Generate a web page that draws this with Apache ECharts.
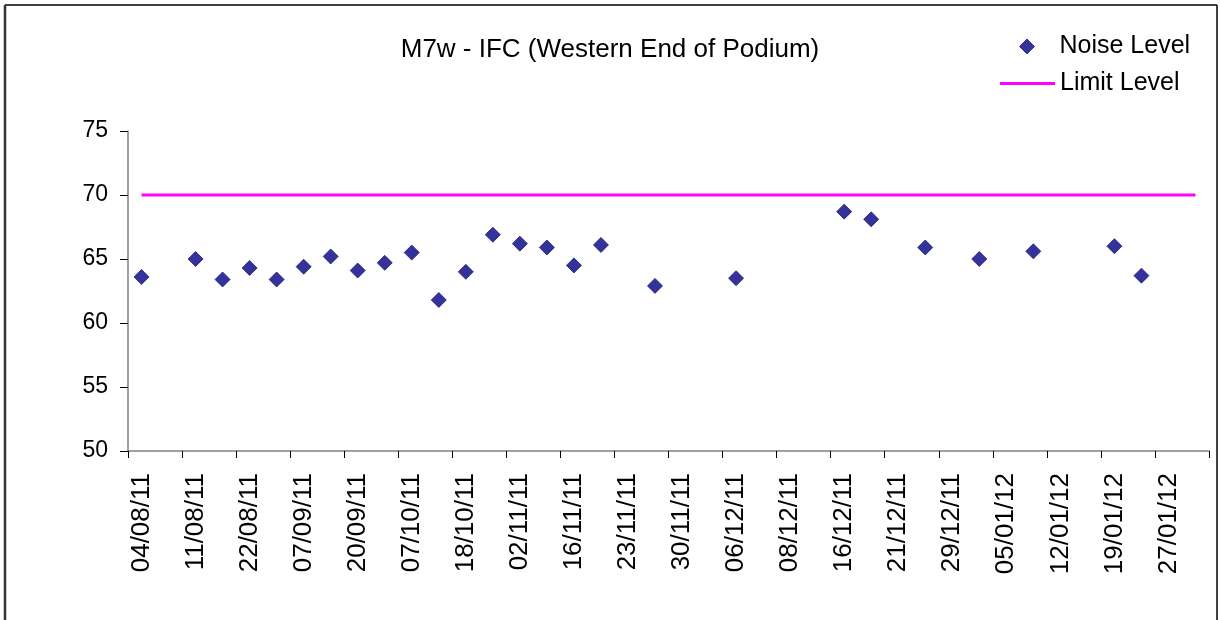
<!DOCTYPE html>
<html>
<head>
<meta charset="utf-8">
<script src="https://cdn.jsdelivr.net/npm/echarts@6/dist/echarts.min.js"></script>
<style>
html,body{margin:0;padding:0;background:#fff;}
#chart{width:1220px;height:620px;}
</style>
</head>
<body>
<div id="chart"></div>
<script>
// Labelled dates (every second category is labelled)
var tickLabels = ['04/08/11','11/08/11','22/08/11','07/09/11','20/09/11','07/10/11','18/10/11','02/11/11','16/11/11','23/11/11','30/11/11','06/12/11','08/12/11','16/12/11','21/12/11','29/12/11','05/01/12','12/01/12','19/01/12','27/01/12'];

// Noise level per category slot (40 slots, null = no reading)
var noiseLevel = [63.6, null, 65.0, 63.4, 64.3, 63.4, 64.4, 65.2, 64.1, 64.7,
                  65.5, 61.8, 64.0, 66.9, 66.2, 65.9, 64.5, 66.1, null, 62.9,
                  null, null, 63.5, null, null, null, 68.7, 68.1, null, 65.9,
                  null, 65.0, null, 65.6, null, null, 66.0, 63.7, null, null];

var limitValue = 70;

var categories = [];
tickLabels.forEach(function (d) { categories.push(d); categories.push(''); });
var limitLevel = categories.map(function () { return limitValue; });

var chart = echarts.init(document.getElementById('chart'));
var font = 'Liberation Sans, Arial, sans-serif';
chart.setOption({
  animation: false,
  backgroundColor: '#fff',
  title: {
    text: 'M7w - IFC (Western End of Podium)',
    left: 'center',
    top: 32,
    textStyle: { fontFamily: font, fontSize: 26, fontWeight: 'normal', color: '#000' }
  },
  legend: [
    {
      left: 1014,
      top: 29,
      itemWidth: 15,
      itemHeight: 15,
      icon: 'diamond',
      itemStyle: { color: '#000080', borderColor: '#1a1a88', borderWidth: 1 },
      textStyle: { fontFamily: font, fontSize: 25, color: '#000', padding: [0, 0, 0, 20] },
      data: ['Noise Level']
    },
    {
      left: 995,
      top: 66,
      itemWidth: 55,
      itemHeight: 3,
      icon: 'rect',
      textStyle: { fontFamily: font, fontSize: 25, color: '#000' },
      data: ['Limit Level']
    }
  ],
  grid: { left: 128, right: 11, top: 131, bottom: 169 },
  xAxis: {
    type: 'category',
    data: categories,
    boundaryGap: true,
    axisLine: { show: true, lineStyle: { color: '#808080', width: 1.5 } },
    axisTick: { show: true, interval: 1, length: 7, lineStyle: { color: '#000' } },
    axisLabel: { interval: 1, rotate: 90, margin: 22, fontFamily: font, fontSize: 26, color: '#000' },
    splitLine: { show: false }
  },
  yAxis: {
    type: 'value',
    min: 50,
    max: 75,
    interval: 5,
    axisLine: { show: true, lineStyle: { color: '#808080', width: 1.5 } },
    axisTick: { show: true, length: 8, lineStyle: { color: '#000' } },
    axisLabel: { margin: 20, fontFamily: font, fontSize: 23, color: '#000' },
    splitLine: { show: false }
  },
  series: [
    {
      name: 'Noise Level',
      type: 'scatter',
      data: noiseLevel,
      symbol: 'diamond',
      symbolSize: 15,
      itemStyle: { color: '#000080', borderColor: '#1a1a88', borderWidth: 1 }
    },
    {
      name: 'Limit Level',
      type: 'line',
      data: limitLevel,
      symbol: 'none',
      lineStyle: { color: '#ff00ff', width: 3 },
      itemStyle: { color: '#ff00ff' }
    }
  ],
  graphic: [
    { type: 'line', shape: { x1: 5, y1: 5, x2: 1217, y2: 5 }, style: { stroke: '#000', lineWidth: 1.5 } },
    { type: 'line', shape: { x1: 5, y1: 5, x2: 5, y2: 620 }, style: { stroke: '#333', lineWidth: 2.5 } },
    { type: 'line', shape: { x1: 1217, y1: 5, x2: 1217, y2: 620 }, style: { stroke: '#000', lineWidth: 1.5 } }
  ]
});
</script>
</body>
</html>
